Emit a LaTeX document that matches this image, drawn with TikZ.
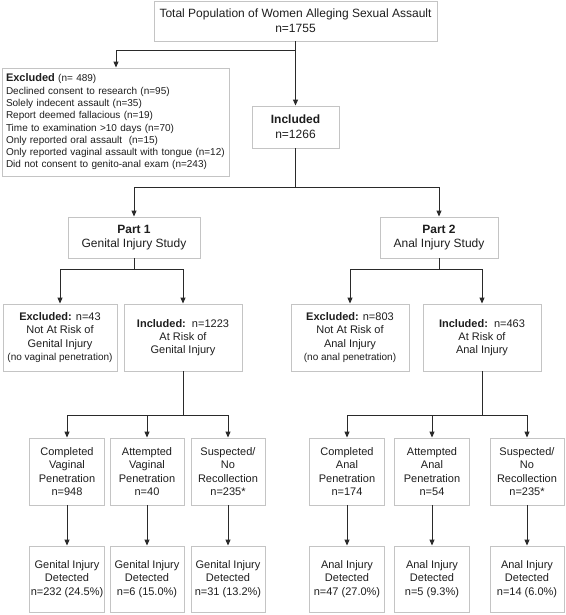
\documentclass[tikz,border=0pt]{standalone}
\usepackage{fontspec}
\setmainfont{Liberation Sans}
\usetikzlibrary{arrows.meta}
\definecolor{boxgray}{HTML}{C4C4C4}
\definecolor{lncol}{HTML}{2A2A2A}
\definecolor{txt}{HTML}{1E1E1E}
\begin{document}
\begin{tikzpicture}[x=1pt,y=-1pt,
 box/.style={draw=boxgray, line width=0.9pt, fill=white, align=center, inner sep=0pt, text=txt},
 fbig/.style={font=\fontsize{12}{15}\selectfont},
 fmd/.style={font=\fontsize{11}{13.3}\selectfont},
 flist/.style={font=\fontsize{10}{12.3}\selectfont},
 conn/.style={draw=lncol, line width=1pt},
 arr/.style={conn, -{Triangle[width=5pt,length=6pt]}},
]
\useasboundingbox (0,0) rectangle (565,615);
\fill[white] (0,0) rectangle (565,615);

% top levels
\node[box,fbig,minimum width=283pt,minimum height=40pt] (top) at (295.5,21) {Total Population of Women Alleging Sexual Assault\\n=1755};
\node[box,flist,minimum width=226.5pt,minimum height=108pt,text width=220pt,align=left,inner xsep=3.25pt] (excl) at (116,122)
 {{\fontsize{11}{12.3}\selectfont\textbf{Excluded}} (n= 489)\\
 Declined consent to research (n=95)\\
 Solely indecent assault (n=35)\\
 Report deemed fallacious (n=19)\\
 Time to examination >10 days (n=70)\\
 Only reported oral assault\ \ (n=15)\\
 Only reported vaginal assault with tongue (n=12)\\
 Did not consent to genito-anal exam (n=243)};
\node[box,fbig,minimum width=87pt,minimum height=42pt] (incl) at (295.5,127) {\textbf{Included}\\n=1266};

% parts
\node[box,minimum width=132pt,minimum height=41pt,font=\fontsize{12}{14.3}\selectfont] (p1) at (134,237.5) {\textbf{Part 1}\\Genital Injury Study};
\node[box,minimum width=118pt,minimum height=41pt,font=\fontsize{12}{14.3}\selectfont] (p2) at (439,237.5) {\textbf{Part 2}\\Anal Injury Study};

% level 3
\node[box,fmd,minimum width=114pt,minimum height=67pt] (ex1) at (60,337.5) {\textbf{Excluded:} n=43\\Not At Risk of\\Genital Injury\\{\fontsize{10}{13.3}\selectfont(no vaginal penetration)}};
\node[box,fmd,minimum width=118pt,minimum height=67pt] (in1) at (183,337.5) {\textbf{Included:}\ \ n=1223\\At Risk of\\Genital Injury};
\node[box,fmd,minimum width=118pt,minimum height=67pt] (ex2) at (350,337.5) {\textbf{Excluded:} n=803\\Not At Risk of\\Anal Injury\\{\fontsize{10}{13.3}\selectfont(no anal penetration)}};
\node[box,fmd,minimum width=118pt,minimum height=67pt] (in2) at (482,337.5) {\textbf{Included:}\ \ n=463\\At Risk of\\Anal Injury};

% level 4
\node[box,fmd,minimum width=75pt,minimum height=67pt] (a) at (67,471.5) {Completed\\Vaginal\\Penetration\\n=948};
\node[box,fmd,minimum width=74pt,minimum height=67pt] (b) at (147,471.5) {Attempted\\Vaginal\\Penetration\\n=40};
\node[box,fmd,minimum width=74pt,minimum height=67pt] (c) at (228,471.5) {Suspected/\\No\\Recollection\\n=235*};
\node[box,fmd,minimum width=75pt,minimum height=67pt] (d) at (347,471.5) {Completed\\Anal\\Penetration\\n=174};
\node[box,fmd,minimum width=75pt,minimum height=67pt] (e) at (432,471.5) {Attempted\\Anal\\Penetration\\n=54};
\node[box,fmd,minimum width=74pt,minimum height=67pt] (f) at (527,471.5) {Suspected/\\No\\Recollection\\n=235*};

% level 5
\node[box,fmd,minimum width=75pt,minimum height=66pt] (a2) at (67,579) {Genital Injury\\Detected\\n=232 (24.5\%)};
\node[box,fmd,minimum width=74pt,minimum height=66pt] (b2) at (147,579) {Genital Injury\\Detected\\n=6 (15.0\%)};
\node[box,fmd,minimum width=74pt,minimum height=66pt] (c2) at (228,579) {Genital Injury\\Detected\\n=31 (13.2\%)};
\node[box,fmd,minimum width=75pt,minimum height=66pt] (d2) at (347,579) {Anal Injury\\Detected\\n=47 (27.0\%)};
\node[box,fmd,minimum width=75pt,minimum height=66pt] (e2) at (432,579) {Anal Injury\\Detected\\n=5 (9.3\%)};
\node[box,fmd,minimum width=74pt,minimum height=66pt] (f2) at (527,579) {Anal Injury\\Detected\\n=14 (6.0\%)};

% junction levels
\coordinate (y1) at (0,50.7);
\coordinate (y2) at (0,187);
\coordinate (y3) at (0,269);
\coordinate (y4) at (0,415);

% connectors
\draw[arr] (top.south) -- (top.south |- y1) -| (excl.north);
\draw[arr] (top.south) -- (incl.north);
\draw[arr] (incl.south) -- (incl.south |- y2) -| (p1.north);
\draw[arr] (incl.south |- y2) -| (p2.north);
\draw[arr] (p1.south) -- (p1.south |- y3) -| (ex1.north);
\draw[arr] (p1.south |- y3) -| (in1.north);
\draw[arr] (p2.south) -- (p2.south |- y3) -| (ex2.north);
\draw[arr] (p2.south |- y3) -| (in2.north);
\draw[arr] (in1.south) -- (in1.south |- y4) -| (a.north);
\draw[arr] (in1.south |- y4) -| (c.north);
\draw[arr] (b.north |- y4) -- (b.north);
\draw[arr] (in2.south) -- (in2.south |- y4) -| (d.north);
\draw[arr] (in2.south |- y4) -| (f.north);
\draw[arr] (e.north |- y4) -- (e.north);
\draw[arr] (a.south) -- (a2.north);
\draw[arr] (b.south) -- (b2.north);
\draw[arr] (c.south) -- (c2.north);
\draw[arr] (d.south) -- (d2.north);
\draw[arr] (e.south) -- (e2.north);
\draw[arr] (f.south) -- (f2.north);
\end{tikzpicture}
\end{document}
